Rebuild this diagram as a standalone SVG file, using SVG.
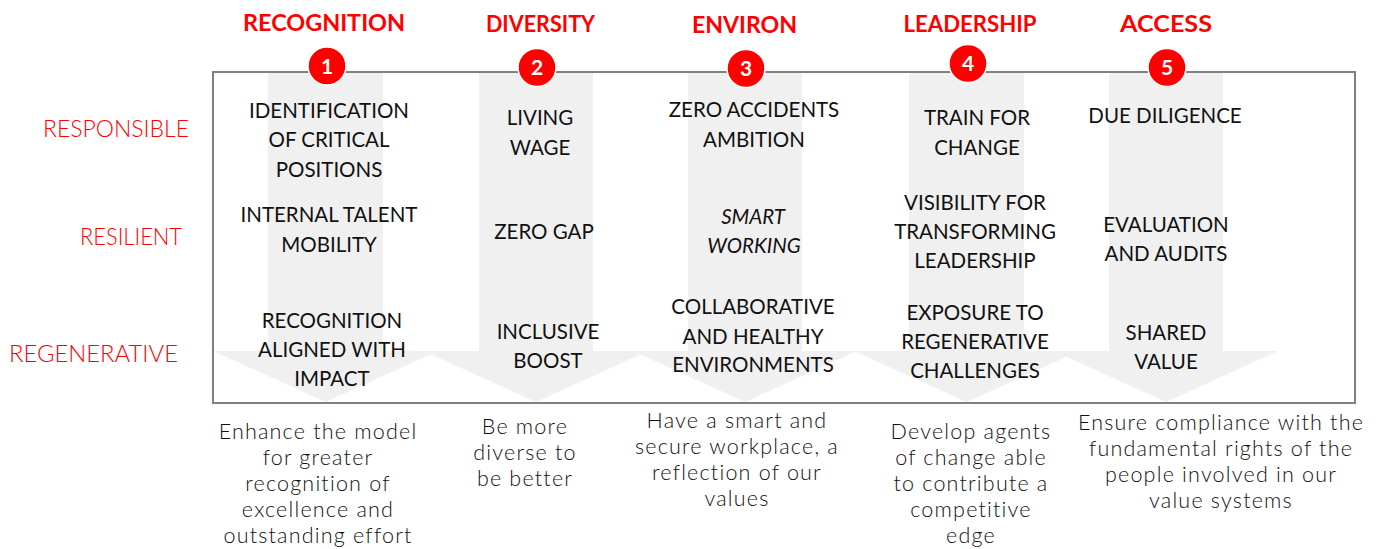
<svg xmlns="http://www.w3.org/2000/svg" width="1381" height="549" viewBox="0 0 1381 549">
<defs>
<style>
.hdr{font-family:Lato,"Liberation Sans",sans-serif;font-weight:700;font-size:23px;fill:#ff0000;text-anchor:middle}
.row{font-family:Lato,"Liberation Sans",sans-serif;font-weight:300;font-size:24px;fill:#ff0000}
.body{font-family:Lato,"Liberation Sans",sans-serif;font-size:20.5px;fill:#111;text-anchor:middle}
.desc{font-family:Lato,"Liberation Sans",sans-serif;font-weight:300;font-size:21.5px;letter-spacing:1.2px;fill:#111;text-anchor:middle}
.arr{fill:#f0f0f0}
.num{fill:#ff0000;stroke:#fff;stroke-width:1.5}
.numt{font-family:Lato,"Liberation Sans",sans-serif;font-weight:700;font-size:21px;fill:#fff;text-anchor:middle}
</style>
</defs>
<rect width="1381" height="549" fill="#fff"/>
<g id="connectors">
<polygon class="arr" points="268,73 383,73 383,351 438,351 325.5,402 213,351 268,351"/>
<polygon class="arr" points="479,73 593,73 593,351 648,351 536,402 424,351 479,351"/>
<polygon class="arr" points="688,73 802,73 802,351 857,351 745,402 633,351 688,351"/>
<polygon class="arr" points="909,73 1024,73 1024,351 1079,351 966.5,402 854,351 909,351"/>
<polygon class="arr" points="1109,73 1223,73 1223,351 1278,351 1166,402 1054,351 1109,351"/>
</g>
<rect id="frame" x="213" y="72" width="1142" height="331" fill="none" stroke="#808080" stroke-width="2"/>
<g id="row-labels">
<text class="row" x="43" y="137" textLength="146" lengthAdjust="spacingAndGlyphs">RESPONSIBLE</text>
<text class="row" x="80" y="245" textLength="102" lengthAdjust="spacingAndGlyphs">RESILIENT</text>
<text class="row" x="9" y="362" textLength="169" lengthAdjust="spacingAndGlyphs">REGENERATIVE</text>
</g>
<g id="col1">
<text class="hdr" x="324" y="31" textLength="162" lengthAdjust="spacingAndGlyphs">RECOGNITION</text>
<circle class="num" cx="327" cy="66" r="19"/>
<text class="numt" x="327" y="73.5">1</text>
<text class="body" x="329" y="118">IDENTIFICATION</text>
<text class="body" x="329" y="147">OF CRITICAL</text>
<text class="body" x="329" y="177">POSITIONS</text>
<text class="body" x="329" y="222">INTERNAL TALENT</text>
<text class="body" x="329" y="252">MOBILITY</text>
<text class="body" x="332" y="328">RECOGNITION</text>
<text class="body" x="332" y="357">ALIGNED WITH</text>
<text class="body" x="332" y="386">IMPACT</text>
<text class="desc" x="318" y="439">Enhance the model</text>
<text class="desc" x="318" y="465">for greater</text>
<text class="desc" x="318" y="491">recognition of</text>
<text class="desc" x="318" y="517">excellence and</text>
<text class="desc" x="318" y="543">outstanding effort</text>
</g>
<g id="col2">
<text class="hdr" x="540.5" y="32" textLength="109" lengthAdjust="spacingAndGlyphs">DIVERSITY</text>
<circle class="num" cx="537" cy="67.5" r="19"/>
<text class="numt" x="537" y="75">2</text>
<text class="body" x="540" y="125">LIVING</text>
<text class="body" x="540" y="155">WAGE</text>
<text class="body" x="544" y="239">ZERO GAP</text>
<text class="body" x="548" y="339">INCLUSIVE</text>
<text class="body" x="548" y="368">BOOST</text>
<text class="desc" x="525" y="434">Be more</text>
<text class="desc" x="525" y="460">diverse to</text>
<text class="desc" x="525" y="486">be better</text>
</g>
<g id="col3">
<text class="hdr" x="744.5" y="33" textLength="105" lengthAdjust="spacingAndGlyphs">ENVIRON</text>
<circle class="num" cx="746" cy="68.5" r="19"/>
<text class="numt" x="746" y="76">3</text>
<text class="body" x="754" y="117">ZERO ACCIDENTS</text>
<text class="body" x="754" y="147">AMBITION</text>
<text class="body" x="753" y="224" font-style="italic">SMART</text>
<text class="body" x="754" y="253" font-style="italic">WORKING</text>
<text class="body" x="753" y="314">COLLABORATIVE</text>
<text class="body" x="753" y="344">AND HEALTHY</text>
<text class="body" x="753" y="372">ENVIRONMENTS</text>
<text class="desc" x="737" y="428">Have a smart and</text>
<text class="desc" x="737" y="454">secure workplace, a</text>
<text class="desc" x="737" y="480">reflection of our</text>
<text class="desc" x="737" y="506">values</text>
</g>
<g id="col4">
<text class="hdr" x="970" y="32" textLength="133" lengthAdjust="spacingAndGlyphs">LEADERSHIP</text>
<circle class="num" cx="968" cy="63.5" r="19"/>
<text class="numt" x="968" y="71">4</text>
<text class="body" x="977" y="125">TRAIN FOR</text>
<text class="body" x="977" y="155">CHANGE</text>
<text class="body" x="975" y="210">VISIBILITY FOR</text>
<text class="body" x="975" y="239">TRANSFORMING</text>
<text class="body" x="975" y="268">LEADERSHIP</text>
<text class="body" x="975" y="320">EXPOSURE TO</text>
<text class="body" x="975" y="349">REGENERATIVE</text>
<text class="body" x="975" y="378">CHALLENGES</text>
<text class="desc" x="971" y="439">Develop agents</text>
<text class="desc" x="971" y="465">of change able</text>
<text class="desc" x="971" y="491">to contribute a</text>
<text class="desc" x="971" y="517">competitive</text>
<text class="desc" x="971" y="543">edge</text>
</g>
<g id="col5">
<text class="hdr" x="1166" y="31.5" textLength="92" lengthAdjust="spacingAndGlyphs">ACCESS</text>
<circle class="num" cx="1167" cy="67.5" r="19"/>
<text class="numt" x="1167" y="75">5</text>
<text class="body" x="1165" y="123">DUE DILIGENCE</text>
<text class="body" x="1166" y="232">EVALUATION</text>
<text class="body" x="1166" y="261">AND AUDITS</text>
<text class="body" x="1166" y="340">SHARED</text>
<text class="body" x="1166" y="369">VALUE</text>
<text class="desc" x="1221" y="430">Ensure compliance with the</text>
<text class="desc" x="1221" y="456">fundamental rights of the</text>
<text class="desc" x="1221" y="482">people involved in our</text>
<text class="desc" x="1221" y="508">value systems</text>
</g>
</svg>
